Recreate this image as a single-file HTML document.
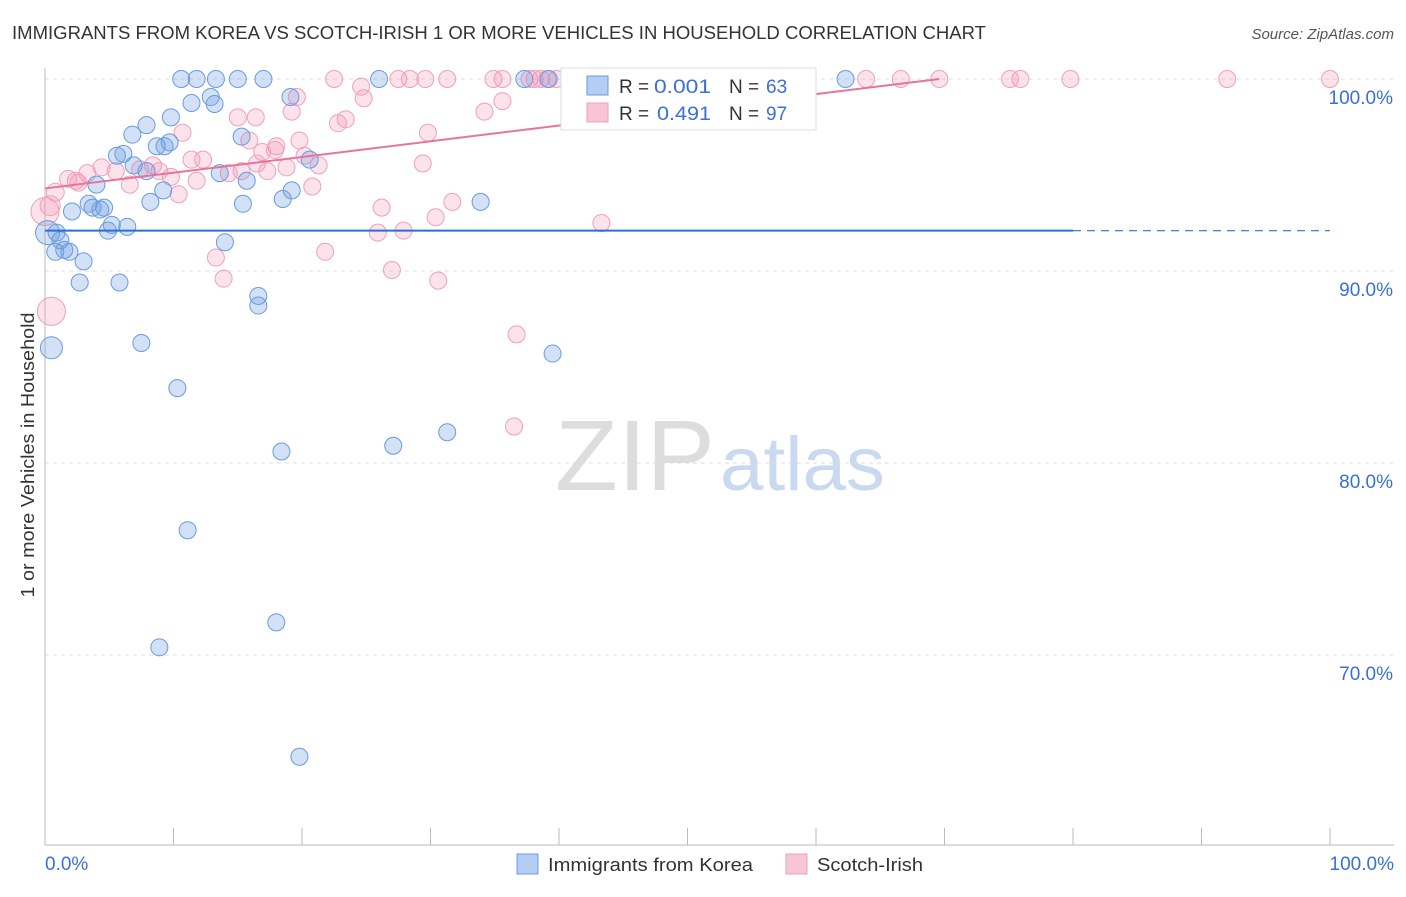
<!DOCTYPE html>
<html><head><meta charset="utf-8"><style>
body{margin:0;background:#fff;font-family:"Liberation Sans",sans-serif}
svg text{font-family:"Liberation Sans",sans-serif}
</style></head><body>
<svg id="chart" width="1406" height="892" xmlns="http://www.w3.org/2000/svg">
<text x="12" y="39" font-size="18" fill="#333" textLength="974" lengthAdjust="spacingAndGlyphs">IMMIGRANTS FROM KOREA VS SCOTCH-IRISH 1 OR MORE VEHICLES IN HOUSEHOLD CORRELATION CHART</text>
<text x="1394" y="39" font-size="15" fill="#555" text-anchor="end" font-style="italic">Source: ZipAtlas.com</text>
<g><text x="555" y="490" font-size="100" fill="#ddd" font-family="Liberation Serif" textLength="160" lengthAdjust="spacingAndGlyphs">ZIP</text><text x="720" y="490" font-size="76" fill="#c9d9ef" textLength="165" lengthAdjust="spacingAndGlyphs">atlas</text></g>
<g id="grid"></g><g id="axes"></g><g id="pts"></g><g id="lines"></g>
<text transform="translate(34,455) rotate(-90)" font-size="18" fill="#333" text-anchor="middle" textLength="285" lengthAdjust="spacingAndGlyphs">1 or more Vehicles in Household</text>
<g>
<rect x="561" y="68" width="255" height="62" fill="#fff" stroke="#ddd"/>
<rect x="587" y="76" width="21" height="19" fill="#b4cdf2" stroke="#6a9be0"/>
<text x="619" y="93" font-size="19" fill="#333">R =</text><text x="654" y="93" font-size="19" fill="#3b6fd4" textLength="57" lengthAdjust="spacingAndGlyphs">0.001</text>
<text x="729" y="93" font-size="19" fill="#333">N =</text><text x="766" y="93" font-size="19" fill="#3b6fd4">63</text>
<rect x="587" y="103" width="21" height="19" fill="#f8c5d5" stroke="#f0a0bb"/>
<text x="619" y="120" font-size="19" fill="#333">R =</text><text x="657" y="120" font-size="19" fill="#3b6fd4" textLength="54" lengthAdjust="spacingAndGlyphs">0.491</text>
<text x="729" y="120" font-size="19" fill="#333">N =</text><text x="766" y="120" font-size="19" fill="#3b6fd4">97</text>
</g>
<g>
<rect x="517" y="854" width="21" height="20" fill="#b4cdf2" stroke="#6a9be0"/>
<text x="548" y="871" font-size="18" fill="#333" textLength="205" lengthAdjust="spacingAndGlyphs">Immigrants from Korea</text>
<rect x="786" y="854" width="21" height="20" fill="#f8c5d5" stroke="#f0a0bb"/>
<text x="817" y="871" font-size="18" fill="#333" textLength="106" lengthAdjust="spacingAndGlyphs">Scotch-Irish</text>
</g>
</svg>
<script>
const koreaX=[10.6,11.8,13.3,15.0,17.0,26.0,39.2,62.3,37.3,11.4,12.9,13.2,19.1,9.8,7.9,6.8,15.3,8.7,9.7,9.3,5.6,6.1,7.9,6.9,13.6,15.7,20.6,9.2,4.0,19.2,18.5,15.4,8.2,33.9,2.1,3.4,4.6,4.3,3.7,5.2,6.4,4.9,0.9,14.0,1.2,1.9,0.8,1.5,3.0,2.7,5.8,16.6,16.6,0.5,7.5,39.5,10.3,18.4,27.1,31.3,11.1,18.0,8.9,19.8,0.2];
const koreaY=[100,100,100,100,100,100,100,100,100,98.75,99.06,98.7,99.06,98.0,97.6,97.1,97.0,96.5,96.7,96.5,96.0,96.1,95.2,95.5,95.1,94.7,95.8,94.2,94.5,94.2,93.75,93.5,93.6,93.6,93.1,93.5,93.3,93.2,93.3,92.4,92.3,92.1,92.0,91.5,91.6,91.0,91.0,91.1,90.5,89.4,89.4,88.7,88.2,86.0,86.25,85.7,83.9,80.6,80.9,81.6,76.5,71.7,70.4,64.7,92.0];
const koreaSize=[8.5,8.5,8.5,8.5,8.5,8.5,8.5,8.5,8.5,8.5,8.5,8.5,8.5,8.5,8.5,8.5,8.5,8.5,8.5,8.5,8.5,8.5,8.5,8.5,8.5,8.5,8.5,8.5,8.5,8.5,8.5,8.5,8.5,8.5,8.5,8.5,8.5,8.5,8.5,8.5,8.5,8.5,8.5,8.5,8.5,8.5,8.5,8.5,8.5,8.5,8.5,8.5,8.5,11,8.5,8.5,8.5,8.5,8.5,8.5,8.5,8.5,8.5,8.5,12];
const scotX=[22.5,27.5,28.4,31.3,34.9,35.6,37.7,38.1,38.6,39.1,39.8,46.1,56.4,63.9,66.6,69.6,75.1,75.9,79.8,92.0,100,29.6,24.6,24.8,35.6,19.6,15.0,16.4,19.2,34.2,23.4,22.8,10.7,29.8,15.9,19.8,18.0,16.9,17.9,20.2,11.4,12.3,21.3,29.4,15.3,17.3,8.4,8.9,7.4,4.4,5.5,3.3,2.4,1.8,2.6,6.6,9.8,11.8,10.4,14.3,20.8,16.5,0.8,0.4,0.0,26.2,31.7,30.4,25.9,27.9,43.3,13.3,21.8,13.9,27.0,30.6,36.7,36.5,0.5,18.8];
const scotY=[100,100,100,100,100,100,100,100,100,100,100,100,100,100,100,100,100,100,100,100,100,100,99.6,99.0,98.85,99.06,98.0,98.0,98.3,98.3,97.9,97.7,97.2,97.2,96.8,96.8,96.5,96.2,96.3,96.0,95.8,95.8,95.5,95.6,95.2,95.2,95.5,95.2,95.3,95.4,95.2,95.1,94.7,94.8,94.6,94.5,94.9,94.7,94.0,95.1,94.4,95.6,94.1,93.4,93.1,93.3,93.6,92.8,92.0,92.1,92.5,90.7,91.0,89.6,90.05,89.5,86.7,81.9,87.9,95.4];
const scotSize=[8.5,8.5,8.5,8.5,8.5,8.5,8.5,8.5,8.5,8.5,8.5,8.5,8.5,8.5,8.5,8.5,8.5,8.5,8.5,8.5,8.5,8.5,8.5,8.5,8.5,8.5,8.5,8.5,8.5,8.5,8.5,8.5,8.5,8.5,8.5,8.5,8.5,8.5,8.5,8.5,8.5,8.5,8.5,8.5,8.5,8.5,8.5,8.5,8.5,8.5,8.5,8.5,8.5,8.5,8.5,8.5,8.5,8.5,8.5,8.5,8.5,8.5,9,10,14,8.5,8.5,8.5,8.5,8.5,8.5,8.5,8.5,8.5,8.5,8.5,8.5,8.5,14,8.5];
const yTicks=[100,90,80,70];
const yTickLabels=["100.0%","90.0%","80.0%","70.0%"];
const xTicks=[0,10,20,30,40,50,60,70,80,90,100];
const koreaLine=[92.1,92.1];
const scotLine=[94.3,100.0]; const scotLineEndX=69.6;
const ns="http://www.w3.org/2000/svg";
const X=v=>45+v*12.85, Y=v=>79+(100-v)*19.2;
function mk(tag,attrs,parent){const e=document.createElementNS(ns,tag);for(const k in attrs)e.setAttribute(k,attrs[k]);document.getElementById(parent).appendChild(e);return e;}
yTicks.forEach((t,i)=>{
 const g=mk('line',{x1:45,x2:1394,y1:Y(t),y2:Y(t),stroke:'#ddd','stroke-dasharray':'4,4'},'grid');
 
 
 const l=mk('text',{x:1393,y:Y(t)+25,'font-size':19,fill:'#3b6fd4','text-anchor':'end'},'grid');
 l.textContent=yTickLabels[i];
 
 
});
const ax=mk('line',{x1:45,x2:45,y1:68,y2:845,stroke:'#bbb'},'axes');


const bx=mk('line',{x1:45,x2:1394,y1:845,y2:845,stroke:'#bbb'},'axes');


xTicks.forEach(t=>{const k=mk('line',{x1:X(t),x2:X(t),y1:828,y2:845,stroke:'#bbb'},'axes');
 
 });
const x0=mk('text',{x:45,y:870,'font-size':19,fill:'#3b6fd4'},'axes');x0.textContent='0.0%';


const x1=mk('text',{x:1394,y:870,'font-size':19,fill:'#3b6fd4','text-anchor':'end'},'axes');x1.textContent='100.0%';


scotX.forEach((v,i)=>{const c=mk('circle',{cx:X(v),cy:Y(scotY[i]),r:scotSize[i],fill:'rgba(244,150,180,0.28)',stroke:'#f0a0bb','stroke-width':1},'pts');
 
 });
koreaX.forEach((v,i)=>{const c=mk('circle',{cx:X(v),cy:Y(koreaY[i]),r:koreaSize[i],fill:'rgba(110,155,225,0.3)',stroke:'#6a9be0','stroke-width':1},'pts');
 
 });
const kl=mk('line',{x1:X(0),x2:X(80),y1:Y(koreaLine[0]),y2:Y(koreaLine[0]+(koreaLine[1]-koreaLine[0])*0.8),stroke:'#2a6fd6','stroke-width':2},'lines');


const kd=mk('line',{x1:X(80),x2:X(100),y1:Y(koreaLine[0]+(koreaLine[1]-koreaLine[0])*0.8),y2:Y(koreaLine[1]),stroke:'#2a6fd6','stroke-width':1.2,'stroke-dasharray':'8,6'},'lines');


const sl=mk('line',{x1:X(0),x2:X(scotLineEndX),y1:Y(scotLine[0]),y2:Y(scotLine[1]),stroke:'#e8739c','stroke-width':2},'lines');


</script>
</body></html>
